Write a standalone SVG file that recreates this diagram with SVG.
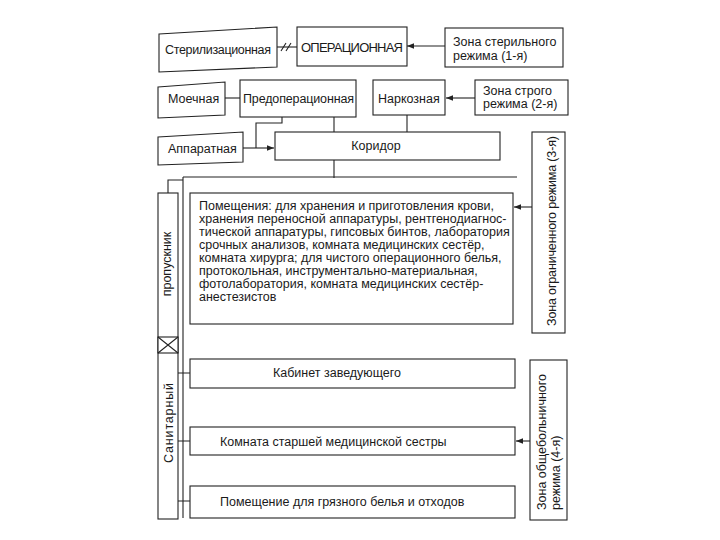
<svg xmlns="http://www.w3.org/2000/svg" width="720" height="540" viewBox="0 0 720 540">
<style>
.b{fill:#fff;stroke:#222;stroke-width:1.1}
.l{fill:none;stroke:#222;stroke-width:1.1}
.t{font-family:"Liberation Sans",Arial,sans-serif;font-size:12.5px;fill:#1a1a1a}
</style>
<defs>
<marker id="ah" viewBox="0 0 10 10" refX="10" refY="5" markerWidth="7" markerHeight="7" orient="auto" markerUnits="userSpaceOnUse">
<path d="M0,1 L10,5 L0,9 Z" fill="#222"/>
</marker>
</defs>
<rect width="720" height="540" fill="#fff"/>

<g id="connectors">
<path class="l" d="M277,47 H297"/>
<path class="l" d="M281,51 L286,43 M286,51 L291,43"/>
<path class="l" d="M445,46 H407" marker-end="url(#ah)"/>
<path class="l" d="M225,98 H240"/>
<path class="l" d="M475,98 H446" marker-end="url(#ah)"/>
<path class="l" d="M282,117 V123 H256 V148"/>
<path class="l" d="M243,148 H274" marker-end="url(#ah)"/>
<path class="l" d="M334,117 V132"/>
<path class="l" d="M407,115 V132"/>
<path class="l" d="M334,160 V178"/>
<path class="l" d="M168,193 V180 H183 M183,177 H517 M183,177 V518"/>
<path class="l" d="M532,207 H514" marker-end="url(#ah)"/>
<path class="l" d="M530,441 H516" marker-end="url(#ah)"/>
<path class="l" d="M178,373 H190 M178,441 H190 M178,501 H190"/>
</g>

<g id="sterilizatsionnaya">
<polygon class="b" points="159,34 277,27 277,67 159,72"/>
<text class="t" x="165" y="54" textLength="106">Стерилизационная</text>
</g>

<g id="operatsionnaya">
<rect class="b" x="297" y="27" width="110" height="39"/>
<text class="t" x="352" y="52" text-anchor="middle" style="font-size:13px" textLength="102">ОПЕРАЦИОННАЯ</text>
</g>

<g id="zona1">
<rect class="b" x="445" y="28" width="118" height="39"/>
<text class="t" x="453" y="46">Зона стерильного</text>
<text class="t" x="453" y="60">режима (1-я)</text>
</g>

<g id="moechnaya">
<polygon class="b" points="158,87 225,82 225,115 158,118"/>
<text class="t" x="168" y="103">Моечная</text>
</g>

<g id="predoperatsionnaya">
<rect class="b" x="240" y="80" width="116" height="37"/>
<text class="t" x="243" y="103" textLength="111">Предоперационная</text>
</g>

<g id="narkoznaya">
<rect class="b" x="373" y="80" width="72" height="35"/>
<text class="t" x="378" y="103">Наркозная</text>
</g>

<g id="zona2">
<rect class="b" x="475" y="80" width="93" height="35"/>
<text class="t" x="483" y="95">Зона строго</text>
<text class="t" x="483" y="108">режима (2-я)</text>
</g>

<g id="apparatnaya">
<polygon class="b" points="158,137 243,132 243,162 158,165"/>
<text class="t" x="168" y="153">Аппаратная</text>
</g>

<g id="koridor">
<rect class="b" x="275" y="132" width="225" height="28"/>
<text class="t" x="376" y="150" text-anchor="middle">Коридор</text>
</g>

<g id="pomeshcheniya">
<rect class="b" x="190" y="193" width="323" height="131"/>
<text class="t" x="199" y="210">Помещения: для хранения и приготовления крови,</text>
<text class="t" x="199" y="223">хранения переносной аппаратуры, рентгенодиагнос-</text>
<text class="t" x="199" y="236">тической аппаратуры, гипсовых бинтов, лаборатория</text>
<text class="t" x="199" y="249">срочных анализов, комната медицинских сестёр,</text>
<text class="t" x="199" y="262">комната хирурга; для чистого операционного белья,</text>
<text class="t" x="199" y="275">протокольная, инструментально-материальная,</text>
<text class="t" x="199" y="288">фотолаборатория, комната медицинских сестёр-</text>
<text class="t" x="199" y="301">анестезистов</text>
</g>

<g id="zona3">
<rect class="b" x="532" y="132" width="33" height="201"/>
<text class="t" transform="translate(556,231) rotate(-90)" text-anchor="middle" textLength="190">Зона ограниченного режима (3-я)</text>
</g>

<g id="sanpropusknik">
<rect class="b" x="158" y="193" width="20" height="326"/>
<rect class="b" x="158" y="337" width="20" height="16"/>
<path class="l" d="M158,337 L178,353 M178,337 L158,353"/>
<text class="t" transform="translate(171,264) rotate(-90)" text-anchor="middle">пропускник</text>
<text class="t" transform="translate(173,423) rotate(-90)" text-anchor="middle" textLength="80">Санитарный</text>
</g>

<g id="kabinet">
<rect class="b" x="190" y="359" width="325" height="29"/>
<text class="t" x="337" y="377" text-anchor="middle">Кабинет заведующего</text>
</g>

<g id="komnata">
<rect class="b" x="190" y="427" width="325" height="28"/>
<text class="t" x="220" y="446">Комната старшей медицинской сестры</text>
</g>

<g id="gryaznoe">
<rect class="b" x="190" y="486" width="325" height="32"/>
<text class="t" x="220" y="506">Помещение для грязного белья и отходов</text>
</g>

<g id="zona4">
<rect class="b" x="530" y="360" width="37" height="160"/>
<text class="t" transform="translate(546,510) rotate(-90)">Зона общебольничного</text>
<text class="t" transform="translate(560,510) rotate(-90)">режима (4-я)</text>
</g>
</svg>
